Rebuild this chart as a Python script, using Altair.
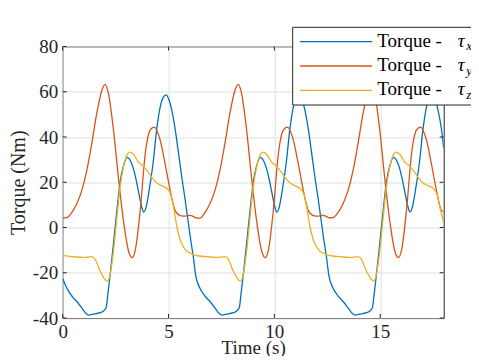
import altair as alt
import pandas as pd

# ---------------- data ----------------
tx_time = [0, 0.19, 0.45, 0.66, 0.9, 1.06, 1.22, 1.45, 1.77, 1.92, 2.05, 2.14, 2.24, 2.4, 2.56, 2.72, 2.88, 3.05, 3.2, 3.37,
           3.58, 3.72, 3.83, 3.94, 4.06, 4.27, 4.45, 4.6, 4.75, 4.88, 5.02, 5.16, 5.32, 5.47, 5.63, 5.79, 6.03, 6.17,
           6.29, 6.48, 6.74, 6.95, 7.19, 7.35, 7.51, 7.74, 8.06, 8.21, 8.34, 8.43, 8.53, 8.69, 8.85, 9.01, 9.17, 9.34, 9.49, 9.66,
           9.87, 10.01, 10.12, 10.23, 10.35, 10.56, 10.74, 10.89, 11.04, 11.17, 11.31, 11.45, 11.61, 11.76, 11.92, 12.08, 12.32, 12.46,
           12.58, 12.77, 13.03, 13.24, 13.48, 13.64, 13.8, 14.03, 14.35, 14.5, 14.63, 14.72, 14.82, 14.98, 15.14, 15.3, 15.46, 15.63,
           15.78, 15.95, 16.16, 16.3, 16.41, 16.52, 16.64, 16.85, 17.03, 17.18, 17.33, 17.46, 17.6, 17.74, 17.9, 18.0]
tx_torque = [-22.5, -26.7, -30.5, -32.6, -35.5, -37.6, -38.7, -38.3, -37.6, -37, -35.5, -29, -21, -7, 7.5, 20.5, 27.5, 31, 29.5, 25,
             16, 9.5, 6.8, 9, 15, 28.5, 44, 53, 57.5, 58.6, 56.5, 51.5, 43, 33, 22, 12, -4.4, -13,
             -21.5, -26.7, -30.5, -32.6, -35.5, -37.6, -38.7, -38.3, -37.6, -37, -35.5, -29, -21, -7, 7.5, 20.5, 27.5, 31, 29.5, 25,
             16, 9.5, 6.8, 9, 15, 28.5, 44, 53, 57.5, 58.6, 56.5, 51.5, 43, 33, 22, 12, -4.4, -13,
             -21.5, -26.7, -30.5, -32.6, -35.5, -37.6, -38.7, -38.3, -37.6, -37, -35.5, -29, -21, -7, 7.5, 20.5, 27.5, 31,
             29.5, 25, 16, 9.5, 6.8, 9, 15, 28.5, 44, 53, 57.5, 58.6, 56.5, 51.5, 43, 35]

ty_time = [0, 0.2, 0.42, 0.66, 0.9, 1.14, 1.37, 1.61, 1.85, 2.0, 2.16, 2.4, 2.63, 2.87, 3.11, 3.27, 3.42, 3.66, 3.9, 4.13,
           4.32, 4.61, 4.84, 5.08, 5.32, 5.55, 5.8, 6.03, 6.18,
           6.29, 6.49, 6.71, 6.95, 7.19, 7.43, 7.66, 7.9, 8.14, 8.29, 8.45, 8.69, 8.92, 9.16, 9.4, 9.56, 9.71, 9.95, 10.19, 10.42,
           10.61, 10.9, 11.13, 11.37, 11.61, 11.84, 12.09, 12.32, 12.47,
           12.58, 12.78, 13.0, 13.24, 13.48, 13.72, 13.95, 14.19, 14.43, 14.58, 14.74, 14.98, 15.21, 15.45, 15.69, 15.85, 16.0,
           16.24, 16.48, 16.71, 16.9, 17.19, 17.42, 17.66, 17.9, 18.0]
ty_torque = [4.2, 4.4, 6.5, 10.4, 16.3, 25.2, 37, 50.4, 60.7, 63.3, 59.3, 43, 22.2, 3, -10.4, -13.3, -10.4, 7.4, 32.6, 43,
             44.4, 38.5, 28.1, 16.3, 7.4, 5.3, 5.0, 5.4, 4.8,
             4.3, 4.1, 6.5, 10.4, 16.3, 25.2, 37, 50.4, 60.7, 63.3, 59.3, 43, 22.2, 3, -10.4, -13.3, -10.4, 7.4, 32.6, 43,
             44.4, 38.5, 28.1, 16.3, 7.4, 5.3, 5.0, 5.4, 4.8,
             4.3, 4.4, 6.5, 10.4, 16.3, 25.2, 37, 50.4, 60.7, 63.3, 59.3, 43, 22.2, 3, -10.4, -13.3, -10.4,
             7.4, 32.6, 43, 44.4, 38.5, 28.1, 16.3, 7.4, 7.0]

tz_time = [0, 0.5, 0.98, 1.37, 1.53, 1.77, 2.0, 2.11, 2.24, 2.4, 2.56, 2.71, 2.87, 3.03, 3.15, 3.35, 3.58, 3.82, 4.05, 4.27,
           4.5, 4.75, 4.95, 5.1, 5.24, 5.4, 5.55, 5.7, 5.87, 6.03,
           6.29, 6.79, 7.27, 7.66, 7.82, 8.06, 8.29, 8.4, 8.53, 8.69, 8.85, 9.0, 9.16, 9.32, 9.44, 9.64, 9.87, 10.11, 10.34, 10.56,
           10.79, 11.04, 11.24, 11.39, 11.53, 11.69, 11.84, 11.99, 12.16, 12.32,
           12.58, 13.08, 13.56, 13.95, 14.11, 14.35, 14.58, 14.69, 14.82, 14.98, 15.14, 15.29, 15.45, 15.61, 15.73, 15.93, 16.16,
           16.4, 16.63, 16.85, 17.08, 17.33, 17.53, 17.68, 17.82, 18.0]
tz_torque = [-12.3, -12.9, -13.2, -12.9, -14, -19.3, -23, -23.7, -20.7, -10.4, 4.4, 17.8, 26.7, 31.9, 33.3, 32.3, 28.9, 27, 24.4, 21.5,
             19.3, 18.2, 17, 14.8, 8.9, 0, -5.4, -8.5, -10.5, -11.3,
             -12.3, -12.9, -13.2, -12.9, -14, -19.3, -23, -23.7, -20.7, -10.4, 4.4, 17.8, 26.7, 31.9, 33.3, 32.3, 28.9, 27, 24.4, 21.5,
             19.3, 18.2, 17, 14.8, 8.9, 0, -5.4, -8.5, -10.5, -11.3,
             -12.3, -12.9, -13.2, -12.9, -14, -19.3, -23, -23.7, -20.7, -10.4, 4.4, 17.8, 26.7, 31.9, 33.3, 32.3, 28.9,
             27, 24.4, 21.5, 19.3, 18.2, 17, 14.8, 8.9, 2]

series_times = [tx_time, ty_time, tz_time]
series_values = [tx_torque, ty_torque, tz_torque]
series_colors = ["#0072BD", "#D95319", "#EDB120"]
legend_main = ["Torque - ", "Torque - ", "Torque - "]
legend_symbol = ["τ", "τ", "τ"]
legend_sub = ["x", "y", "z"]

x_ticks = [0, 5, 10, 15]
y_ticks = [-40, -20, 0, 20, 40, 60, 80]
x_domain = [0, 18]
y_domain = [-40, 80]
x_title = "Time (s)"
y_title = "Torque (Nm)"

# ---------------- styling / layout ----------------
W, H = 381, 271.5
FONT = "Liberation Serif"
AX = "#262626"
GRID = "#dfdfdf"
FS = 19
TFS = 20

xscale = alt.Scale(domain=x_domain, nice=False, zero=False)
yscale = alt.Scale(domain=y_domain, nice=False, zero=False)

xaxis = alt.Axis(values=x_ticks, grid=True, gridColor=GRID, gridWidth=1, domain=False, ticks=False, tickSize=0,
                 labelFont=FONT, labelFontSize=FS, labelColor=AX, labelBaseline="alphabetic", labelPadding=19,
                 labelFlush=False, labelOverlap=False, labelExpr="'' + datum.value",
                 title=x_title, titleFont=FONT, titleFontSize=FS, titleFontWeight="normal", titleColor=AX,
                 titleBaseline="alphabetic", titleAlign="center", titleX=W / 2, titleY=35)
yaxis = alt.Axis(values=y_ticks, grid=True, gridColor=GRID, gridWidth=1, domain=False, ticks=False, tickSize=0,
                 labelFont=FONT, labelFontSize=FS, labelColor=AX, labelPadding=5, labelFlush=False,
                 labelOverlap=False, labelExpr="'' + datum.value",
                 title=y_title, titleFont=FONT, titleFontSize=TFS, titleFontWeight="normal", titleColor=AX,
                 titleAngle=270, titleBaseline="alphabetic", titleAlign="center", titleX=-38.7, titleY=H / 2)

layers = []
for t, v, c in zip(series_times, series_values, series_colors):
    df = pd.DataFrame({"t": t, "v": v})
    layers.append(
        alt.Chart(df).mark_line(color=c, strokeWidth=1.3, interpolate="monotone", clip=True).encode(
            x=alt.X("t:Q", scale=xscale, axis=xaxis),
            y=alt.Y("v:Q", scale=yscale, axis=yaxis),
        )
    )

# inward ticks on all four sides (MATLAB box style)
xt = pd.DataFrame({"t": x_ticks})
yt = pd.DataFrame({"v": y_ticks})
TL = 4
for ya, yb in [(H, H - TL), (0, TL)]:
    layers.append(alt.Chart(xt).mark_rule(color=AX, strokeWidth=1).encode(
        x=alt.X("t:Q", scale=xscale, axis=xaxis), y=alt.value(ya), y2=alt.value(yb)))
for xa, xb in [(0, TL), (W, W - TL)]:
    layers.append(alt.Chart(yt).mark_rule(color=AX, strokeWidth=1).encode(
        y=alt.Y("v:Q", scale=yscale, axis=yaxis), x=alt.value(xa), x2=alt.value(xb)))

# legend box (top right, partly outside the axes)
one = pd.DataFrame({"k": [0]})
layers.append(alt.Chart(one).mark_rect(fill="white", stroke=AX, strokeWidth=1).encode(
    x=alt.value(230), x2=alt.value(445), y=alt.value(-19.2), y2=alt.value(58.5)))
row_y = [-4.8, 19.5, 43.8]
for i in range(3):
    ry = row_y[i]
    ldf = pd.DataFrame({"main": [legend_main[i]], "sym": [legend_symbol[i]], "sub": [legend_sub[i]]})
    layers.append(alt.Chart(ldf).mark_rule(color=series_colors[i], strokeWidth=1.3).encode(
        x=alt.value(237.3), x2=alt.value(309.3), y=alt.value(ry)))
    layers.append(alt.Chart(ldf).mark_text(align="left", baseline="alphabetic", font=FONT, fontSize=FS,
                                           color="black").encode(
        x=alt.value(314.6), y=alt.value(ry + 5), text="main:N"))
    layers.append(alt.Chart(ldf).mark_text(align="left", baseline="alphabetic", font=FONT, fontSize=FS,
                                           fontStyle="italic", color="black").encode(
        x=alt.value(395), y=alt.value(ry + 5), text="sym:N"))
    layers.append(alt.Chart(ldf).mark_text(align="left", baseline="alphabetic", font=FONT, fontSize=13,
                                           fontStyle="italic", color="black").encode(
        x=alt.value(403.5), y=alt.value(ry + 8.5), text="sub:N"))

chart = alt.layer(*layers).properties(
    width=W, height=H,
    autosize=alt.AutoSizeParams(type="none"),
    padding={"left": 54.7, "top": 38.5, "right": 27.3, "bottom": 38},
    background="white",
).configure_view(stroke=AX, strokeWidth=1)

chart.save("out.html", embed_options={"renderer": "svg", "actions": False})
